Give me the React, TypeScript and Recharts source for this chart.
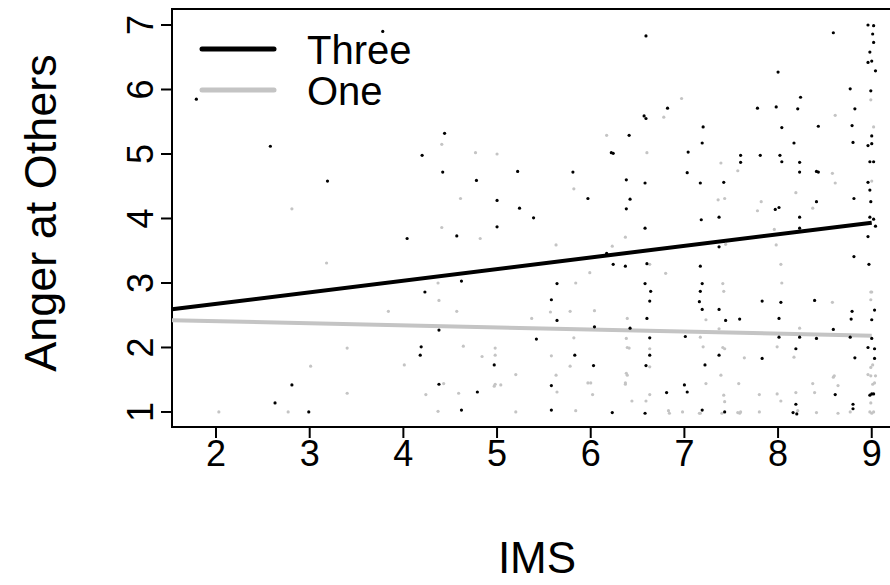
import { ScatterChart, Scatter, XAxis, YAxis, ReferenceArea, ReferenceLine, Label } from 'recharts';

// IMS (x) / Anger at Others (y)
const threePoints: [number, number][] = [
  [1.79, 5.85], [2.58, 5.12], [3.78, 6.9], [4.44, 5.32], [6.59, 6.83], [6.82, 5.71], [6.57, 5.59], [6.59, 5.55], [6.41, 5.29],
  [8.96, 7.0], [9.02, 6.99], [8.59, 6.88], [9.01, 6.86], [9.02, 6.73], [8.98, 6.58], [8.96, 6.42], [9.0, 6.44], [9.04, 6.29],
  [8.0, 6.27], [8.77, 6.01], [8.99, 5.98], [8.24, 5.88], [7.78, 5.71], [7.98, 5.73], [8.21, 5.7], [8.82, 5.7], [7.2, 5.42],
  [8.04, 5.41], [8.43, 5.43], [8.79, 5.44], [9.0, 5.28], [7.19, 5.17], [8.17, 5.17], [8.8, 5.18], [8.96, 5.13], [9.0, 5.16],
  [3.19, 4.58],
  [4.2, 4.98], [4.42, 4.72], [4.78, 4.59], [5.22, 4.73], [5.0, 4.28], [5.24, 4.16], [5.0, 3.87], [4.57, 3.73], [4.04, 3.69], [4.62, 3.03],
  [6.22, 5.02], [6.24, 5.01], [7.04, 5.03], [5.81, 4.72], [7.03, 4.71], [6.38, 4.6], [6.58, 4.55], [7.17, 4.55], [5.97, 4.31],
  [6.42, 4.3], [6.38, 4.15], [5.39, 4.01], [6.58, 3.85], [6.17, 3.46], [6.24, 3.29], [6.37, 3.26], [6.6, 3.3], [7.17, 3.26],
  [5.64, 2.99], [6.58, 2.99],
  [7.6, 4.98], [7.81, 4.98], [8.02, 4.98], [7.6, 4.87], [8.04, 4.88], [8.23, 4.87], [8.98, 4.88], [9.02, 4.88], [8.23, 4.72],
  [8.41, 4.73], [8.43, 4.72], [7.42, 4.56], [8.96, 4.56], [8.98, 4.44], [7.97, 4.14], [8.01, 4.17], [8.41, 4.26], [8.81, 4.31],
  [8.99, 4.26], [7.18, 3.98], [7.37, 4.02], [8.23, 4.02], [8.98, 4.02], [9.02, 3.99], [9.04, 3.88], [8.23, 3.85], [8.96, 3.72],
  [7.37, 3.56], [8.81, 3.41], [8.97, 3.29], [7.19, 2.99],
  [2.81, 1.42], [2.63, 1.14], [2.99, 1.0],
  [4.23, 2.86], [4.38, 2.27], [4.19, 2.01], [4.18, 1.88], [4.97, 1.73], [4.38, 1.43], [4.79, 1.31], [4.62, 1.03],
  [6.64, 2.87], [5.58, 2.74], [6.63, 2.72], [7.16, 2.71], [5.64, 2.42], [6.6, 2.45], [6.04, 2.32], [6.42, 2.3], [5.42, 2.13],
  [6.63, 2.15], [7.01, 2.17], [5.83, 1.88], [6.63, 1.88], [6.03, 1.72], [6.59, 1.72], [5.58, 1.41], [7.0, 1.42], [6.81, 1.3],
  [7.03, 1.31], [5.58, 1.03], [6.23, 0.99], [6.58, 0.98],
  [7.17, 2.87], [7.19, 2.59], [7.37, 2.59], [7.83, 2.72], [8.03, 2.7], [8.39, 2.73], [8.79, 2.56], [9.03, 2.58], [7.44, 2.42],
  [7.59, 2.44], [8.01, 2.45], [8.78, 2.44], [9.0, 2.43], [8.59, 2.28], [8.01, 2.16], [8.23, 2.16], [8.41, 2.14], [8.77, 2.16],
  [9.0, 2.14], [8.19, 1.98], [8.96, 2.0], [9.03, 1.98], [7.37, 1.88], [7.83, 1.83], [8.82, 1.84], [9.03, 1.83], [7.22, 1.73],
  [8.61, 1.27], [8.98, 1.26], [9.0, 1.28], [9.02, 1.28], [8.19, 1.12], [8.8, 1.12], [7.19, 1.03], [7.43, 1.0], [8.16, 0.99],
  [8.2, 0.97], [8.8, 1.05],
];

const onePoints: [number, number][] = [
  [4.41, 5.15], [6.97, 5.86], [6.78, 5.57], [6.17, 5.29], [8.99, 5.84], [8.61, 5.6], [9.02, 5.42],
  [2.81, 4.15], [3.18, 3.31],
  [4.77, 5.02], [5.0, 5.0], [4.61, 4.31], [4.41, 3.86], [4.82, 3.69], [4.37, 3.0],
  [6.6, 5.02], [5.82, 4.46], [6.37, 3.71], [5.63, 3.59], [6.23, 3.57], [6.63, 3.29], [5.99, 3.16], [6.8, 3.15], [5.84, 3.0],
  [7.39, 4.86], [7.57, 4.74], [8.58, 4.7], [8.61, 4.55], [9.0, 4.58], [7.36, 4.29], [7.43, 4.31], [8.19, 4.4], [7.82, 4.26],
  [7.78, 4.12], [8.37, 4.16], [7.96, 3.83], [7.44, 3.6], [7.98, 3.59], [8.03, 3.29], [7.41, 2.99], [8.04, 3.0],
  [3.4, 1.99], [3.01, 1.71], [3.4, 1.29], [2.03, 1.0], [2.77, 1.0],
  [4.38, 2.73], [3.84, 2.56], [4.57, 2.56], [4.64, 2.02], [4.98, 1.99], [4.84, 1.86], [4.98, 1.88], [4.01, 1.73], [5.2, 1.58],
  [4.43, 1.44], [4.97, 1.4], [4.98, 1.43], [5.04, 1.42], [4.24, 1.27], [4.59, 1.29], [4.37, 1.01], [5.2, 1.0],
  [5.37, 2.45], [5.57, 2.55], [5.78, 2.56], [6.04, 2.57], [6.39, 2.45], [5.82, 2.15], [6.38, 2.14], [6.39, 2.0], [6.41, 1.99],
  [6.63, 1.98], [5.58, 1.87], [5.78, 1.71], [6.63, 1.7], [5.63, 1.57], [6.38, 1.6], [6.39, 1.57], [5.97, 1.45], [6.0, 1.45],
  [6.37, 1.45], [6.37, 1.43], [5.64, 1.31], [6.02, 1.27], [6.63, 1.27], [6.44, 1.17], [6.59, 1.17], [5.84, 1.02], [6.83, 1.02],
  [6.84, 0.98], [6.98, 1.0], [7.17, 0.98],
  [7.42, 2.87], [8.58, 2.7], [8.99, 2.86], [9.0, 2.86], [8.99, 2.74], [7.23, 2.43], [7.37, 2.29], [8.23, 2.3], [7.17, 2.16],
  [7.2, 2.01], [7.41, 2.0], [7.43, 1.98], [7.99, 2.01], [7.64, 1.84], [8.17, 1.85], [8.99, 1.69], [9.01, 1.73], [7.39, 1.57],
  [8.6, 1.56], [8.59, 1.54], [8.96, 1.58], [8.99, 1.56], [9.04, 1.56], [7.23, 1.44], [7.58, 1.44], [8.37, 1.44], [8.64, 1.41],
  [9.01, 1.43], [9.03, 1.45], [7.42, 1.26], [7.8, 1.27], [7.99, 1.28], [8.19, 1.3], [8.39, 1.3], [8.99, 1.14], [7.43, 1.16],
  [8.03, 1.17], [7.16, 0.98], [7.4, 0.98], [7.57, 0.99], [7.59, 0.98], [7.6, 1.0], [7.8, 1.0], [8.21, 1.02], [8.41, 0.99],
  [8.64, 0.98], [8.77, 1.0], [8.98, 1.0], [9.0, 0.98], [9.02, 1.0],
];

// fitted lines, [x, y] at both ends
const threeFit: [number, number][] = [[1.53, 2.592], [9, 3.935]];
const oneFit: [number, number][] = [[1.53, 2.422], [9, 2.183]];

const xTicks = [2, 3, 4, 5, 6, 7, 8, 9];
const yTicks = [1, 2, 3, 4, 5, 6, 7];
const xDomain: [number, number] = [1.53, 9.323];
const yDomain: [number, number] = [0.767, 7.248];

const GRAY = '#c4c4c4';
const FONT = '"Liberation Sans", Arial, sans-serif';

const toRows = (pts: [number, number][]) => pts.map(([ims, anger]) => ({ ims, anger }));

const Dot = (color: string) => (p: any) => <circle cx={p.cx} cy={p.cy} r={1.6} fill={color} />;

const YTick = (props: any) => {
  const { x, y, payload } = props;
  const bx = x - 6;
  return (
    <text x={bx} y={y} transform={`rotate(-90, ${bx}, ${y})`} textAnchor="middle" fontSize={36} fill="#000" fontFamily={FONT}>
      {payload.value}
    </text>
  );
};

export default function App() {
  return (
    <div style={{ position: 'absolute', left: 0, top: 0, width: 890, height: 585, overflow: 'hidden', background: '#fff' }}>
      <ScatterChart width={912} height={585} margin={{ top: 9, right: 10, bottom: 0, left: 0 }} style={{ fontFamily: FONT }}>
        <XAxis
          type="number"
          dataKey="ims"
          domain={xDomain}
          ticks={xTicks}
          allowDataOverflow
          height={158}
          axisLine={false}
          tickSize={11}
          tickLine={{ stroke: '#000', strokeWidth: 2 }}
          tick={{ fontSize: 36, fill: '#000', fontFamily: FONT }}
        >
          <Label
            content={(p: any) => {
              const vb = p.viewBox;
              return (
                <text x={vb.x + vb.width / 2} y={573} textAnchor="middle" fontSize={44} fill="#000" fontFamily={FONT}>
                  IMS
                </text>
              );
            }}
          />
        </XAxis>
        <YAxis
          type="number"
          dataKey="anger"
          domain={yDomain}
          ticks={yTicks}
          allowDataOverflow
          width={172}
          axisLine={false}
          tickSize={11}
          tickLine={{ stroke: '#000', strokeWidth: 2 }}
          tick={<YTick />}
        >
          <Label
            content={(p: any) => {
              const vb = p.viewBox;
              const cy = vb.y + vb.height / 2 - 5;
              return (
                <text x={56} y={cy} transform={`rotate(-90, 56, ${cy})`} textAnchor="middle" fontSize={45} fill="#000" fontFamily={FONT}>
                  Anger at Others
                </text>
              );
            }}
          />
        </YAxis>
        <Scatter data={toRows(onePoints)} shape={Dot(GRAY)} isAnimationActive={false} />
        <Scatter data={toRows(threePoints)} shape={Dot('#000')} isAnimationActive={false} />
        <ReferenceLine
          segment={threeFit.map(([x, y]) => ({ x, y }))}
          stroke="#000"
          strokeWidth={4}
        />
        <ReferenceLine
          segment={oneFit.map(([x, y]) => ({ x, y }))}
          stroke={GRAY}
          strokeWidth={4}
        />
        <ReferenceArea
          x1={xDomain[0]}
          x2={xDomain[1]}
          y1={yDomain[0]}
          y2={yDomain[1]}
          fill="none"
          stroke="#000"
          strokeWidth={2}
        />
      </ScatterChart>
      <svg width={890} height={585} style={{ position: 'absolute', left: 0, top: 0, pointerEvents: 'none' }}>
        <line x1={202} x2={274} y1={49} y2={49} stroke="#000" strokeWidth={5} strokeLinecap="round" />
        <line x1={202} x2={274} y1={90} y2={90} stroke={GRAY} strokeWidth={5} strokeLinecap="round" />
        <text x={307} y={64} fontSize={40} fill="#000" fontFamily={FONT}>Three</text>
        <text x={307} y={105} fontSize={40} fill="#000" fontFamily={FONT}>One</text>
      </svg>
    </div>
  );
}
